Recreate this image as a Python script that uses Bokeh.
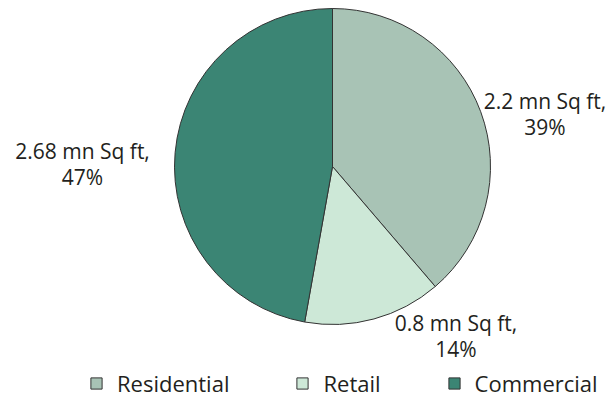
import math
from bokeh.plotting import figure
from bokeh.models import Range1d, ColumnDataSource, Legend, LegendItem
from bokeh.core.properties import value
from bokeh.embed import file_html
from bokeh.resources import INLINE

categories = ["Residential", "Retail", "Commercial"]
area_mn_sqft = [2.2, 0.8, 2.68]
percent_labels = ["39%", "14%", "47%"]
colors = ["#a8c3b5", "#cde8d7", "#3b8574"]

W, H = 613, 398
CX, CY, R = 332, H - 166, 158
# label anchors (angle clockwise from top in degrees, distance from centre in px)
label_polar = [(76, 219), (144, 210), (270.5, 250)]
LINE_GAP = 26
FONT = "Open Sans"
FONT_SIZE = "21px"
LEGEND_FONT_SIZE = "22px"
TEXT_COLOR = "#231f20"

total = sum(area_mn_sqft)
starts, ends = [], []
cum = 0.0
for v in area_mn_sqft:
    a0 = math.pi / 2 - (cum + v) / total * 2 * math.pi
    a1 = math.pi / 2 - cum / total * 2 * math.pi
    starts.append(a0)
    ends.append(a1)
    cum += v

p = figure(width=W, height=H, output_backend="svg", toolbar_location=None,
           x_range=Range1d(0, W), y_range=Range1d(0, H), min_border=0)
p.axis.visible = False
p.grid.visible = False
p.outline_line_color = None

items = []
for i, cat in enumerate(categories):
    r = p.wedge(x=CX, y=CY, radius=R, start_angle=starts[i], end_angle=ends[i],
                fill_color=colors[i], line_color="#333333", line_width=1)
    items.append(LegendItem(label=cat, renderers=[r]))

lx, ly1, ly2, lt1, lt2 = [], [], [], [], []
for i, v in enumerate(area_mn_sqft):
    ang, dist = label_polar[i]
    a = math.radians(ang)
    x = CX + dist * math.sin(a)
    y = CY + dist * math.cos(a)
    lx.append(x)
    ly1.append(y + LINE_GAP / 2)
    ly2.append(y - LINE_GAP / 2)
    lt1.append(f"{v:g} mn Sq ft,")
    lt2.append(percent_labels[i])

src = ColumnDataSource(dict(x=lx, y1=ly1, y2=ly2, t1=lt1, t2=lt2))
for yk, tk in (("y1", "t1"), ("y2", "t2")):
    p.text(x="x", y=yk, text=tk, source=src, text_font=value(FONT),
           text_font_size=FONT_SIZE, text_color=TEXT_COLOR,
           text_align="center", text_baseline="middle")

legend = Legend(items=items, orientation="horizontal", location=(89, 0),
                glyph_width=14, glyph_height=14, label_standoff=14, spacing=66,
                padding=0, margin=0, border_line_alpha=0, background_fill_alpha=0,
                label_text_font=FONT, label_text_font_size=LEGEND_FONT_SIZE,
                label_text_color=TEXT_COLOR)
p.add_layout(legend, "center")

open("out.html", "w").write(file_html(p, INLINE))
